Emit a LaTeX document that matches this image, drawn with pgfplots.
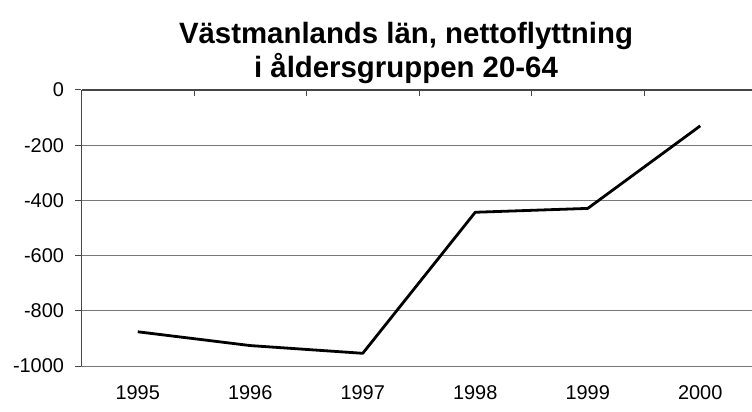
\documentclass[border=0pt]{standalone}
\usepackage{fontspec}
\setmainfont{Liberation Sans}
\usepackage{pgfplots}
\pgfplotsset{compat=1.18}
\definecolor{gridgray}{RGB}{120,120,120}
\definecolor{axisgray}{RGB}{70,70,70}

\begin{document}
\begin{tikzpicture}
% main axis: grid, y axis, year labels, data
\begin{axis}[
    at={(0,0)}, anchor=south west,
    scale only axis,
    width=670.5bp, height=276bp,
    xmin=-0.5, xmax=5.46,
    ymin=-1000, ymax=0,
    axis lines*=left,
    x axis line style={gridgray, line width=0.8bp, -},
    y axis line style={axisgray, line width=1bp, -},
    xtick={0,1,2,3,4,5},
    xticklabels={1995,1996,1997,1998,1999,2000},
    xtick style={draw=none},
    xticklabel style={yshift=-10bp},
    ytick={-1000,-800,-600,-400,-200,0},
    yticklabels={-1000,-800,-600,-400,-200,0},
    ytick style={axisgray, line width=1bp},
    tick align=outside,
    major tick length=6bp,
    yticklabel style={xshift=-8bp},
    ymajorgrids,
    grid style={gridgray, line width=0.8bp},
    tick label style={font=\fontsize{20}{24}\selectfont},
]
\addplot[black, line width=2.8bp, line join=round] coordinates {
    (0,-876) (1,-926) (2,-954) (3,-443) (4,-429) (5,-130)
};
\end{axis}
% category axis along the top (value 0) with tick marks between years
\begin{axis}[
    at={(0,0)}, anchor=south west,
    scale only axis,
    width=670.5bp, height=276bp,
    xmin=-0.5, xmax=5.46,
    ymin=-1000, ymax=0,
    axis x line*=top,
    axis y line=none,
    x axis line style={axisgray, line width=1.2bp, -},
    xtick={0.5,1.5,2.5,3.5,4.5},
    xticklabels={},
    tick align=inside,
    major tick length=6bp,
    tick style={axisgray, line width=1bp},
]
\end{axis}
\node[font=\fontsize{29.5}{34}\selectfont\bfseries, anchor=base] at (324.5bp,322bp) {Västmanlands län, nettoflyttning};
\node[font=\fontsize{29.5}{34}\selectfont\bfseries, anchor=base] at (324.5bp,288bp) {i åldersgruppen 20-64};
\pgfresetboundingbox
\path[use as bounding box] (-81.5bp,-46bp) rectangle (670.5bp,366bp);
\end{tikzpicture}
\end{document}
